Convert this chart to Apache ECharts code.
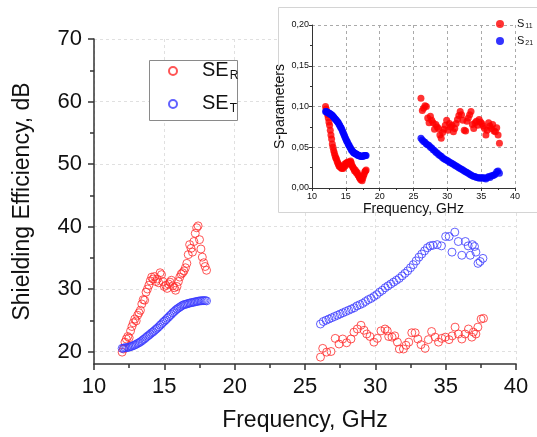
<!DOCTYPE html>
<html>
<head>
<meta charset="utf-8">
<script src="https://cdn.jsdelivr.net/npm/echarts@6/dist/echarts.min.js"></script>
<style>
  html, body { margin: 0; padding: 0; background: #fff; }
  #chart { width: 537px; height: 437px; }
</style>
</head>
<body>
<div id="chart"></div>
<script>
// --- main plot, low band (12-18 GHz) ---
const lowFreq = [
  12.0, 12.1, 12.2, 12.3, 12.4, 12.5, 12.6, 12.7, 12.8, 12.9,
  13.0, 13.1, 13.2, 13.3, 13.4, 13.5, 13.6, 13.7, 13.8, 13.9,
  14.0, 14.1, 14.2, 14.3, 14.4, 14.5, 14.6, 14.7, 14.8, 14.9,
  15.0, 15.1, 15.2, 15.3, 15.4, 15.5, 15.6, 15.7, 15.8, 15.9,
  16.0, 16.1, 16.2, 16.3, 16.4, 16.5, 16.6, 16.7, 16.8, 16.9,
  17.0, 17.1, 17.2, 17.3, 17.4, 17.5, 17.6, 17.7, 17.8, 17.9,
  18.0
];
const seRLow = [
  19.9, 20.4, 21.5, 22.0, 22.4, 22.2, 23.3, 24.0, 24.6, 25.2,
  24.9, 25.8, 26.2, 26.6, 27.6, 28.3, 28.2, 29.5, 30.0, 30.6,
  31.3, 31.9, 31.6, 32.0, 31.2, 31.6, 31.0, 32.6, 32.3, 31.2,
  30.4, 30.6, 30.1, 30.8, 31.1, 31.4, 30.5, 30.2, 29.8, 30.4,
  31.2, 31.9, 32.4, 32.6, 32.9, 33.4, 34.1, 35.5, 37.1, 36.5,
  35.9, 37.6, 38.9, 39.8, 40.1, 37.9, 36.4, 35.1, 34.2, 33.6,
  33.0
];
const seTLow = [
  20.5, 20.55, 20.6, 20.6, 20.65, 20.7, 20.8, 20.85, 20.95, 21.05,
  21.15, 21.3, 21.4, 21.55, 21.7, 21.9, 22.05, 22.25, 22.45, 22.6,
  22.8, 23.0, 23.15, 23.35, 23.55, 23.75, 23.95, 24.2, 24.4, 24.65,
  24.85, 25.05, 25.3, 25.5, 25.75, 25.95, 26.2, 26.4, 26.6, 26.8,
  26.95, 27.1, 27.25, 27.4, 27.5, 27.55, 27.6, 27.7, 27.75, 27.8,
  27.85, 27.9, 27.95, 28.0, 28.05, 28.1, 28.1, 28.15, 28.15, 28.15,
  28.1
];

// --- main plot, high band (26-38 GHz) ---
const seRHighFreq = [
  26.1, 26.26, 26.54, 26.85, 27.15, 27.42, 27.68, 27.96, 28.27, 28.48,
  28.72, 28.98, 29.2, 29.39, 29.62, 29.9, 30.14, 30.4, 30.69, 30.85,
  30.95, 31.19, 31.38, 31.57, 31.71, 32.0, 32.18, 32.38, 32.59, 32.83,
  33.02, 33.25, 33.54, 33.77, 34.0, 34.25, 34.49, 34.72, 34.98, 35.24,
  35.46, 35.67, 35.91, 36.15, 36.38, 36.62, 36.86, 36.97, 37.15, 37.29,
  37.52, 37.69
];
const seRHigh = [
  19.1, 20.5, 19.9, 20.0, 22.1, 21.2, 22.0, 21.4, 22.0, 23.1,
  23.6, 24.2, 23.4, 22.8, 22.4, 21.5, 22.1, 23.3, 23.6, 23.3,
  22.4, 22.3, 22.5, 21.5, 20.4, 20.4, 21.0, 21.5, 23.0, 23.0,
  22.0, 21.1, 20.5, 21.9, 23.2, 22.3, 21.5, 22.1, 22.3, 21.9,
  22.5, 23.9, 22.8, 22.0, 22.8, 23.6, 22.3, 23.1, 22.8, 23.9,
  25.2, 25.3
];
const seTHighFreq = [
  26.1, 26.3, 26.5, 26.7, 26.9, 27.1, 27.3, 27.5, 27.7, 27.9,
  28.1, 28.3, 28.5, 28.7, 28.9, 29.1, 29.3, 29.5, 29.7, 29.9,
  30.1, 30.3, 30.5, 30.7, 30.9, 31.1, 31.3, 31.5, 31.7, 31.9,
  32.1, 32.3, 32.5, 32.7, 32.9, 33.1, 33.3, 33.5, 33.7, 33.9,
  34.1, 34.4, 34.7, 35.0, 35.25, 35.45, 35.65, 35.9, 36.15, 36.4,
  36.6, 36.75, 36.9, 37.05, 37.15, 37.3, 37.45, 37.65
];
const seTHigh = [
  24.4, 24.8, 25.0, 25.2, 25.4, 25.6, 25.8, 26.0, 26.2, 26.4,
  26.6, 26.8, 27.0, 27.3, 27.5, 27.7, 28.0, 28.3, 28.5, 28.8,
  29.1, 29.5, 29.8, 30.2, 30.5, 30.8, 31.1, 31.4, 31.7, 32.1,
  32.5, 32.9, 33.4, 33.9, 34.5, 35.1, 35.6, 36.1, 36.6, 36.9,
  37.0, 37.1, 36.9, 38.4, 38.4, 35.9, 39.1, 37.6, 35.4, 37.6,
  36.9, 35.4, 37.1, 36.8, 35.9, 34.1, 34.4, 34.9
];

// --- inset: S-parameters ---
const highFreq = [
  26.1, 26.3, 26.5, 26.7, 26.9, 27.1, 27.3, 27.5, 27.7, 27.9,
  28.1, 28.3, 28.5, 28.7, 28.9, 29.1, 29.3, 29.5, 29.7, 29.9,
  30.1, 30.3, 30.5, 30.7, 30.9, 31.1, 31.3, 31.5, 31.7, 31.9,
  32.1, 32.3, 32.5, 32.7, 32.9, 33.1, 33.3, 33.5, 33.7, 33.9,
  34.1, 34.3, 34.5, 34.7, 34.9, 35.1, 35.3, 35.5, 35.7, 35.9,
  36.1, 36.3, 36.5, 36.7, 36.9, 37.1, 37.3, 37.5, 37.7
];
const s11Low = [
  0.100, 0.097, 0.093, 0.090, 0.086, 0.081, 0.077, 0.071, 0.065, 0.060,
  0.054, 0.050, 0.046, 0.043, 0.040, 0.037, 0.036, 0.033, 0.031, 0.029,
  0.027, 0.026, 0.027, 0.025, 0.024, 0.025, 0.024, 0.026, 0.029, 0.027,
  0.030, 0.031, 0.029, 0.032, 0.031, 0.030, 0.032, 0.033, 0.031, 0.028,
  0.026, 0.025, 0.023, 0.021, 0.022, 0.020, 0.018, 0.019, 0.016, 0.015,
  0.013, 0.012, 0.010, 0.011, 0.009, 0.012, 0.015, 0.017, 0.020, 0.021,
  0.022
];
const s21Low = [
  0.094, 0.094, 0.093, 0.093, 0.092, 0.092, 0.091, 0.091, 0.090, 0.090,
  0.089, 0.088, 0.087, 0.086, 0.085, 0.084, 0.083, 0.082, 0.081, 0.080,
  0.078, 0.077, 0.075, 0.074, 0.072, 0.070, 0.068, 0.066, 0.064, 0.062,
  0.060, 0.058, 0.057, 0.055, 0.053, 0.052, 0.050, 0.049, 0.047, 0.046,
  0.045, 0.044, 0.043, 0.043, 0.042, 0.042, 0.041, 0.041, 0.040, 0.040,
  0.040, 0.039, 0.039, 0.039, 0.039, 0.039, 0.039, 0.040, 0.040, 0.040,
  0.040
];
const s11High = [
  0.110, 0.095, 0.098, 0.101, 0.100, 0.086, 0.080, 0.088, 0.083, 0.080,
  0.072, 0.078, 0.075, 0.073, 0.065, 0.061, 0.068, 0.072, 0.077, 0.083,
  0.071, 0.079, 0.075, 0.077, 0.069, 0.073, 0.079, 0.084, 0.089, 0.094,
  0.090, 0.083, 0.071, 0.070, 0.082, 0.086, 0.090, 0.094, 0.078, 0.073,
  0.080, 0.082, 0.077, 0.084, 0.081, 0.079, 0.076, 0.073, 0.065, 0.071,
  0.080, 0.076, 0.073, 0.078, 0.070, 0.069, 0.074, 0.065, 0.055
];
const s21High = [
  0.061, 0.059, 0.057, 0.056, 0.054, 0.053, 0.052, 0.050, 0.049, 0.047,
  0.046, 0.044, 0.043, 0.041, 0.040, 0.039, 0.037, 0.036, 0.035, 0.034,
  0.033, 0.032, 0.031, 0.030, 0.029, 0.028, 0.027, 0.026, 0.025, 0.024,
  0.023, 0.022, 0.021, 0.020, 0.019, 0.018, 0.017, 0.016, 0.015, 0.014,
  0.014, 0.013, 0.013, 0.012, 0.013, 0.012, 0.013, 0.012, 0.011, 0.013,
  0.014, 0.013, 0.015, 0.015, 0.016, 0.017, 0.020, 0.021, 0.018
];

const mainYMajor = [20, 30, 40, 50, 60, 70];
const mainYMinor = [25, 35, 45, 55, 65];

const FONT = "'Liberation Sans', Arial, sans-serif";
const RED = "#ff2a2a";
const BLUE = "#3a3aff";
const AXIS = "#333";

function pairs(xs, ys) {
  return xs.map((x, i) => [x, ys[i]]);
}

const chart = echarts.init(document.getElementById("chart"), null, { renderer: "canvas" });

const option = {
  animation: false,
  backgroundColor: "#fff",
  textStyle: { fontFamily: FONT },
  graphic: [
    // legend box of the main plot
    {
      type: "rect",
      z: 1,
      shape: { x: 149.5, y: 60.5, width: 88, height: 60 },
      style: { fill: "#fff", stroke: "#8a8a8a", lineWidth: 1 },
    },
    // inset frame
    {
      type: "rect",
      z: 1,
      shape: { x: 278.5, y: 7.5, width: 265, height: 205 },
      style: { fill: "#fff", stroke: "#d4d4d4", lineWidth: 1 },
    },
  ],
  legend: [
    {
      left: 168,
      top: 58,
      orient: "vertical",
      padding: 0,
      itemWidth: 8,
      itemHeight: 8,
      itemGap: 9,
      data: ["SE_R", "SE_T"],
      formatter: (name) => "{a|SE}{b|" + name.slice(3) + "}",
      textStyle: {
        color: "#111",
        rich: {
          a: { fontSize: 20, fontFamily: FONT, color: "#111", padding: [0, 0, 0, 20], lineHeight: 22, verticalAlign: "top" },
          b: { fontSize: 12, fontFamily: FONT, color: "#111", padding: [12, 0, 0, 1], lineHeight: 12, verticalAlign: "bottom" },
        },
      },
    },
    {
      left: 496,
      top: 17,
      orient: "vertical",
      padding: 0,
      itemWidth: 8,
      itemHeight: 8,
      itemGap: 4,
      data: ["S11", "S21"],
      formatter: (name) => "{a|S}{b|" + name.slice(1) + "}",
      textStyle: {
        color: "#111",
        rich: {
          a: { fontSize: 11, fontFamily: FONT, color: "#111", padding: [0, 0, 0, 8], lineHeight: 12, verticalAlign: "top" },
          b: { fontSize: 7, fontFamily: FONT, color: "#111", padding: [6, 0, 0, 1], lineHeight: 7, verticalAlign: "bottom" },
        },
      },
    },
  ],
  grid: [
    { left: 94, right: 21, top: 39, bottom: 72 },
    { left: 312, right: 22, top: 25, bottom: 249, z: 3 },
  ],
  xAxis: [
    {
      gridIndex: 0,
      type: "value",
      min: 10,
      max: 40,
      interval: 5,
      name: "Frequency, GHz",
      nameLocation: "middle",
      nameGap: 45,
      nameTextStyle: { fontSize: 23, color: "#111", fontFamily: FONT },
      axisLine: { onZero: false, lineStyle: { color: AXIS, width: 1.5 } },
      axisTick: { length: 6, lineStyle: { color: AXIS, width: 1.5 } },
      minorTick: { show: true, splitNumber: 2, length: 4, lineStyle: { color: AXIS, width: 1.5 } },
      axisLabel: { fontSize: 22, color: "#111", margin: 12, fontFamily: FONT },
      splitLine: { show: true, lineStyle: { color: "#e0e0e0", type: [3, 3], width: 1 } },
    },
    {
      gridIndex: 1,
      type: "value",
      min: 10,
      max: 40,
      interval: 5,
      z: 3,
      name: "Frequency, GHz",
      nameLocation: "middle",
      nameGap: 10,
      nameTextStyle: { fontSize: 14, color: "#111", fontFamily: FONT },
      axisLine: { onZero: false, lineStyle: { color: AXIS, width: 1 } },
      axisTick: { length: 3, lineStyle: { color: AXIS } },
      minorTick: { show: true, splitNumber: 2, length: 2, lineStyle: { color: AXIS } },
      axisLabel: { fontSize: 9, color: "#111", margin: 4, fontFamily: FONT },
      splitLine: { show: true, lineStyle: { color: "#aaa", type: [3, 3], width: 1 } },
    },
  ],
  yAxis: [
    {
      gridIndex: 0,
      type: "value",
      min: 18,
      max: 70,
      splitNumber: 5,
      name: "Shielding Efficiency, dB",
      nameLocation: "middle",
      nameGap: 60,
      nameTextStyle: { fontSize: 23, color: "#111", fontFamily: FONT },
      axisLine: { onZero: false, lineStyle: { color: AXIS, width: 1.5 } },
      axisTick: { length: 6, customValues: mainYMajor, lineStyle: { color: AXIS, width: 1.5 } },
      axisLabel: { fontSize: 22, color: "#111", margin: 12, customValues: mainYMajor, fontFamily: FONT },
      splitLine: { show: true, lineStyle: { color: "#e0e0e0", type: [3, 3], width: 1 } },
    },
    {
      // only carries the short ticks between the labelled ones
      gridIndex: 0,
      type: "value",
      position: "left",
      min: 18,
      max: 70,
      axisLine: { show: false },
      axisTick: { show: true, length: 4, customValues: mainYMinor, lineStyle: { color: AXIS, width: 1.5 } },
      axisLabel: { show: false },
      splitLine: { show: false },
    },
    {
      gridIndex: 1,
      type: "value",
      min: 0,
      max: 0.2,
      interval: 0.05,
      z: 3,
      name: "S-parameters",
      nameLocation: "middle",
      nameGap: 18,
      nameTextStyle: { fontSize: 14, color: "#111", fontFamily: FONT },
      axisLine: { onZero: false, lineStyle: { color: AXIS, width: 1 } },
      axisTick: { length: 3, lineStyle: { color: AXIS } },
      minorTick: { show: true, splitNumber: 2, length: 2, lineStyle: { color: AXIS } },
      axisLabel: {
        fontSize: 9,
        color: "#111",
        margin: 3,
        fontFamily: FONT,
        formatter: (v) => v.toFixed(2).replace(".", ","),
      },
      splitLine: { show: true, lineStyle: { color: "#aaa", type: [3, 3], width: 1 } },
    },
  ],
  series: [
    {
      name: "SE_R",
      type: "scatter",
      xAxisIndex: 0,
      yAxisIndex: 0,
      symbol: "circle",
      symbolSize: 8,
      itemStyle: { color: "transparent", borderColor: RED, borderWidth: 1 },
      data: pairs(lowFreq, seRLow).concat(pairs(seRHighFreq, seRHigh)),
    },
    {
      name: "SE_T",
      type: "scatter",
      xAxisIndex: 0,
      yAxisIndex: 0,
      symbol: "circle",
      symbolSize: 8,
      itemStyle: { color: "transparent", borderColor: BLUE, borderWidth: 1 },
      data: pairs(lowFreq, seTLow).concat(pairs(seTHighFreq, seTHigh)),
    },
    {
      name: "S11",
      type: "scatter",
      xAxisIndex: 1,
      yAxisIndex: 2,
      z: 4,
      symbol: "circle",
      symbolSize: 7,
      itemStyle: { color: "#f00" },
      data: pairs(lowFreq, s11Low).concat(pairs(highFreq, s11High)),
    },
    {
      name: "S21",
      type: "scatter",
      xAxisIndex: 1,
      yAxisIndex: 2,
      z: 4,
      symbol: "circle",
      symbolSize: 7,
      itemStyle: { color: "#00f" },
      data: pairs(lowFreq, s21Low).concat(pairs(highFreq, s21High)),
    },
  ],
};

chart.setOption(option);
</script>
</body>
</html>
